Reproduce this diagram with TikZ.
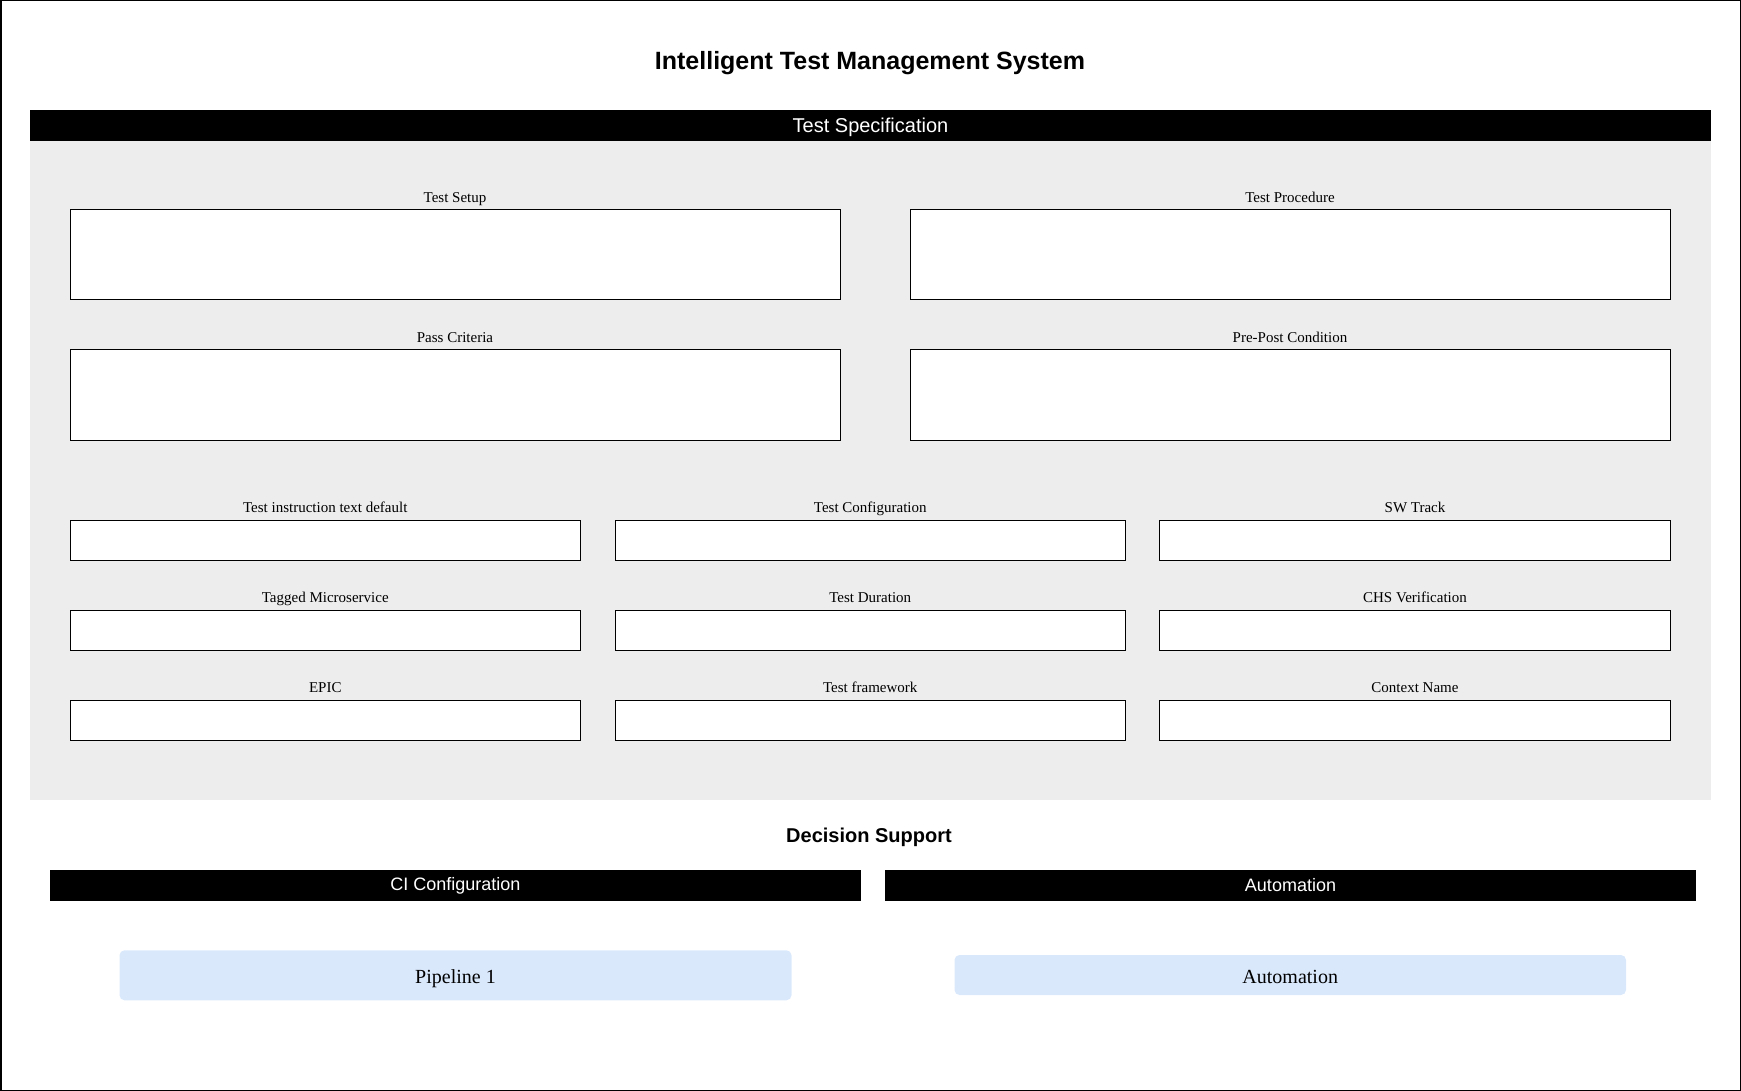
\documentclass[tikz,border=0pt]{standalone}
\usepackage{fontspec}
\setmainfont{Liberation Serif}
\setsansfont{Liberation Sans}
\usetikzlibrary{positioning}
\definecolor{panelgray}{RGB}{237,237,237}
\definecolor{paleblue}{RGB}{218,232,252}
\tikzset{
  header/.style    = {shape=rectangle, fill=black, text=white, inner sep=0pt,
                      font=\sffamily\fontsize{18}{18}\selectfont},
  heading/.style   = {inner sep=0pt, font=\sffamily\bfseries\fontsize{20}{20}\selectfont},
  panel/.style     = {shape=rectangle, fill=panelgray, inner sep=0pt},
  field/.style     = {shape=rectangle, draw, fill=white, line width=1pt, inner sep=0pt,
                      minimum width=510.5pt, minimum height=40pt},
  bigfield/.style  = {field, minimum height=90pt},
  fieldname/.style = {inner sep=0pt, text height=10.5pt, text depth=3.5pt,
                      font=\fontsize{15}{15}\selectfont},
  pipe/.style      = {shape=rectangle, rounded corners=5pt, fill=paleblue, inner sep=0pt,
                      text height=19pt, text depth=3pt,
                      font=\fontsize{20}{20}\selectfont}
}

\begin{document}
\begin{tikzpicture}
  [
    x = 1pt,
    y = -1pt
  ]
  \useasboundingbox (0,0) rectangle (1741,1091);
  \draw[line width=1.5pt] (0.75,0.75) rectangle (1740.25,1090.25);

  \node [heading, font=\sffamily\bfseries\fontsize{25}{25}\selectfont] (title) at (870,63.5)
    {Intelligent Test Management System};

  % test specification
  \node [panel, minimum width=1681pt, minimum height=659pt] (spec) at (870.5,470.5) {};
  \node [header, minimum width=1681pt, minimum height=31pt, text height=19pt, text depth=4pt,
         font=\sffamily\fontsize{20}{20}\selectfont] (spechead) at (870.5,125.5) {Test Specification};

  \node [bigfield, minimum width=770pt] (setup) at (455,255) {};
  \node [fieldname, above=3.5pt of setup] (setuplbl) {Test Setup};
  \node [bigfield, minimum width=760pt] (proc) at (1290,255) {};
  \node [fieldname, above=3.5pt of proc] (proclbl) {Test Procedure};
  \node [bigfield, minimum width=770pt] (pass) at (455,395) {};
  \node [fieldname, above=3.5pt of pass] (passlbl) {Pass Criteria};
  \node [bigfield, minimum width=760pt] (prepost) at (1290,395) {};
  \node [fieldname, above=3.5pt of prepost] (prepostlbl) {Pre-Post Condition};

  \node [field] (instr) at (325.25,540) {};
  \node [fieldname, above=3.5pt of instr] (instrlbl) {Test instruction text default};
  \node [field] (config) at (870.25,540) {};
  \node [fieldname, above=3.5pt of config] (configlbl) {Test Configuration};
  \node [field] (track) at (1415,540) {};
  \node [fieldname, above=3.5pt of track] (tracklbl) {SW Track};

  \node [field] (micro) at (325.25,630) {};
  \node [fieldname, above=3.5pt of micro] (microlbl) {Tagged Microservice};
  \node [field] (duration) at (870.25,630) {};
  \node [fieldname, above=3.5pt of duration] (durationlbl) {Test Duration};
  \node [field] (chs) at (1415,630) {};
  \node [fieldname, above=3.5pt of chs] (chslbl) {CHS Verification};

  \node [field] (epic) at (325.25,720) {};
  \node [fieldname, above=3.5pt of epic] (epiclbl) {EPIC};
  \node [field] (framework) at (870.25,720) {};
  \node [fieldname, above=3.5pt of framework] (frameworklbl) {Test framework};
  \node [field] (context) at (1415,720) {};
  \node [fieldname, above=3.5pt of context] (contextlbl) {Context Name};

  % decision support
  \node [heading] (decision) at (869,837.5) {Decision Support};
  \node [header, minimum width=811pt, minimum height=30.5pt] (cihead) at (455.5,885.5) {CI Configuration};
  \node [header, minimum width=811pt, minimum height=30.5pt] (autohead) at (1290.5,885.5) {Automation};

  \node [pipe, minimum width=672pt, minimum height=50pt] (pipeline) at (455.5,975.3) {Pipeline 1};
  \node [pipe, minimum width=671.5pt, minimum height=40pt] (auto) at (1290.25,975) {Automation};
\end{tikzpicture}
\end{document}
